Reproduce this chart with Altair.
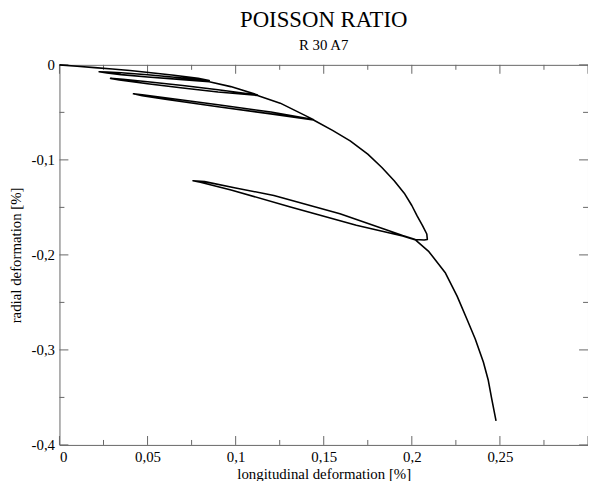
import altair as alt
import pandas as pd

# ---- data (longitudinal %, radial %) ----
env_a_x = [0, 0.01, 0.02, 0.03, 0.04, 0.0506, 0.065, 0.0787, 0.085]
env_a_y = [0, -0.0014, -0.0029, -0.0044, -0.006, -0.008, -0.011, -0.0142, -0.0165]
loop_a_x = [0.07, 0.05, 0.035, 0.027, 0.0225, 0.027, 0.035, 0.05, 0.07, 0.085]
loop_a_y = [-0.0138, -0.0104, -0.0083, -0.0075, -0.0073, -0.0085, -0.0103, -0.0128, -0.0155, -0.0178]
env_b_x = [0.0972, 0.1124]
env_b_y = [-0.0229, -0.0316]
loop_b_x = [0.09, 0.07, 0.05, 0.036, 0.029, 0.034, 0.05, 0.07, 0.09, 0.1124]
loop_b_y = [-0.0262, -0.0218, -0.0178, -0.0152, -0.0142, -0.0158, -0.0198, -0.0243, -0.0285, -0.0322]
env_c_x = [0.1253, 0.1442]
env_c_y = [-0.0403, -0.0576]
loop_c_x = [0.12, 0.09, 0.06, 0.047, 0.042, 0.047, 0.06, 0.09, 0.12, 0.1442]
loop_c_y = [-0.0497, -0.0419, -0.0347, -0.0315, -0.0305, -0.0324, -0.0361, -0.0441, -0.0516, -0.058]
env_d_x = [0.155, 0.165, 0.175, 0.183, 0.19, 0.1957, 0.2, 0.203, 0.206, 0.2085, 0.2088]
env_d_y = [-0.069, -0.080, -0.094, -0.108, -0.122, -0.135, -0.148, -0.159, -0.169, -0.178, -0.1837]
hook_x = [0.207, 0.202, 0.1948]
hook_y = [-0.1843, -0.1838, -0.1797]
unload_d_x = [0.1592, 0.1217, 0.1, 0.0824, 0.0758]
unload_d_y = [-0.1566, -0.1375, -0.1295, -0.1229, -0.1219]
reload_d_x = [0.08, 0.0974, 0.1311, 0.1685, 0.1948]
reload_d_y = [-0.1235, -0.1316, -0.1497, -0.1688, -0.1802]
env_e_x = [0.2022, 0.2097, 0.2191, 0.2257, 0.2313, 0.236, 0.2406, 0.2434, 0.2453, 0.2478]
env_e_y = [-0.1844, -0.1966, -0.2191, -0.2434, -0.2677, -0.2885, -0.3128, -0.332, -0.351, -0.3747]

x_major = [0, 0.05, 0.1, 0.15, 0.2, 0.25, 0.3]
x_minor = [0.025, 0.075, 0.125, 0.175, 0.225, 0.275]
y_major = [0, -0.1, -0.2, -0.3, -0.4]
y_minor = [-0.05, -0.15, -0.25, -0.35]
x_labels = [0, 0.05, 0.1, 0.15, 0.2, 0.25]
y_labels = [0, -0.1, -0.2, -0.3, -0.4]

px = (env_a_x + loop_a_x + env_b_x + loop_b_x + env_c_x + loop_c_x + env_d_x
      + hook_x + unload_d_x + reload_d_x + env_e_x)
py = (env_a_y + loop_a_y + env_b_y + loop_b_y + env_c_y + loop_c_y + env_d_y
      + hook_y + unload_d_y + reload_d_y + env_e_y)
df = pd.DataFrame({"x": px, "y": py, "i": list(range(len(px)))})

W, H = 534, 384
FONT = "Liberation Serif"
TICK = "#666666"
xs = alt.Scale(domain=[0, 0.3], nice=False, zero=False)
ys = alt.Scale(domain=[-0.4, 0], nice=False, zero=False)
lab = "replace(toString(datum.value), '.', ',')"

curve = alt.Chart(df).mark_line(color="black", strokeWidth=1.6, strokeJoin="round").encode(
    x=alt.X("x:Q", scale=xs, title="longitudinal deformation [%]",
            axis=alt.Axis(values=x_labels, labelExpr=lab, ticks=False, domain=False,
                          grid=False, labelPadding=5, titlePadding=2)),
    y=alt.Y("y:Q", scale=ys, title="radial deformation [%]",
            axis=alt.Axis(values=y_labels, labelExpr=lab, ticks=False, domain=False,
                          grid=False, labelPadding=5, titlePadding=8)),
    order="i:Q",
)


def xticks(vals, length):
    d = pd.DataFrame({"v": vals})
    b = alt.Chart(d).mark_rule(color=TICK, strokeWidth=1).encode(
        x=alt.X("v:Q", scale=xs), y=alt.value(H), y2=alt.value(H - length))
    t = alt.Chart(d).mark_rule(color=TICK, strokeWidth=1).encode(
        x=alt.X("v:Q", scale=xs), y=alt.value(0), y2=alt.value(length))
    return [b, t]


def yticks(vals, length):
    d = pd.DataFrame({"v": vals})
    l = alt.Chart(d).mark_rule(color=TICK, strokeWidth=1).encode(
        y=alt.Y("v:Q", scale=ys), x=alt.value(0), x2=alt.value(length))
    r = alt.Chart(d).mark_rule(color=TICK, strokeWidth=1).encode(
        y=alt.Y("v:Q", scale=ys), x=alt.value(W), x2=alt.value(W - length))
    return [l, r]


layers = (xticks(x_major, 9) + xticks(x_minor, 5) + yticks(y_major, 9)
          + yticks(y_minor, 5) + [curve])

chart = alt.layer(*layers).properties(
    width=W, height=H,
    title=alt.TitleParams("POISSON RATIO", subtitle="R 30 A7", font=FONT, fontSize=23,
                          fontWeight="normal", subtitleFont=FONT, subtitleFontSize=15,
                          subtitleColor="black", color="black", anchor="middle",
                          offset=5, subtitlePadding=6),
    autosize=alt.AutoSizeParams(type="none"),
    padding={"left": 52, "top": 55, "right": 0, "bottom": 34},
).configure_view(stroke=TICK, strokeWidth=1).configure_axis(
    labelFont=FONT, labelFontSize=15, labelColor="black",
    titleFont=FONT, titleFontSize=15, titleFontWeight="normal", titleColor="black",
)

chart.save("out.html", embed_options={"renderer": "svg", "actions": False})
